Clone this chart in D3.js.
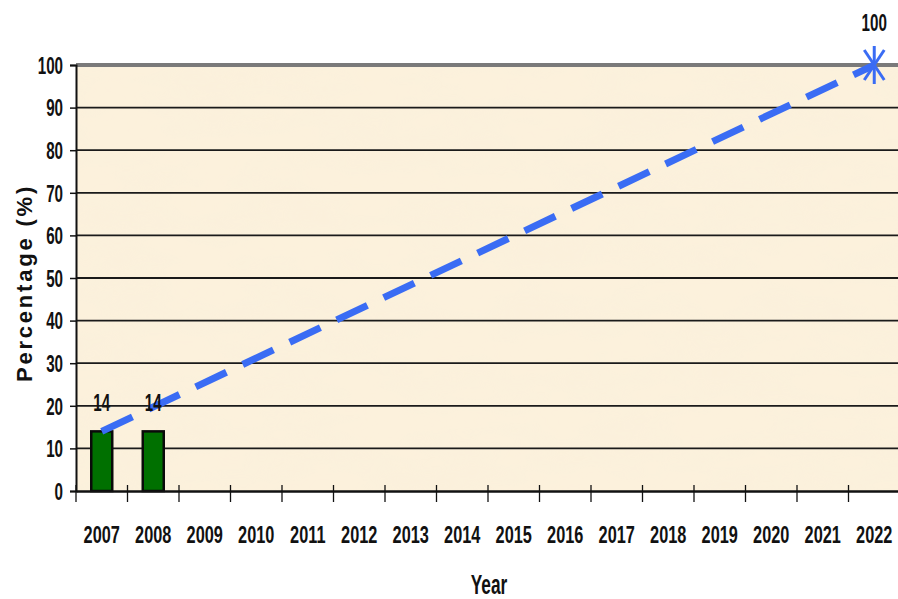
<!DOCTYPE html>
<html>
<head>
<meta charset="utf-8">
<script src="https://cdn.jsdelivr.net/npm/d3@7"></script>
<style>
  html, body { margin: 0; padding: 0; background: #ffffff; }
  svg { display: block; }
  .lbl { font-family: "Liberation Sans", Arial, sans-serif; font-weight: bold; font-size: 23px; fill: #111; }
</style>
</head>
<body>
<svg id="chart" width="898" height="599"></svg>
<script>
// Years on the category axis
const years = ["2007", "2008", "2009", "2010", "2011", "2012", "2013", "2014",
               "2015", "2016", "2017", "2018", "2019", "2020", "2021", "2022"];
// Achieved percentage per year (bars)
const barYears = ["2007", "2008"];
const barValues = [14, 14];
// Target trajectory (dashed line) from the starting level to the goal
const targetYears = ["2007", "2022"];
const targetValues = [14, 100];
// Y axis ticks
const yTicks = [0, 10, 20, 30, 40, 50, 60, 70, 80, 90, 100];

const svg = d3.select("#chart");
const plotLeft = 76, plotRight = 900, plotTop = 65, plotBottom = 491;

const x = d3.scaleBand().domain(years).range([plotLeft, plotRight]).paddingInner(0).paddingOuter(0);
const y = d3.scaleLinear().domain([0, 100]).range([plotBottom, plotTop]);

// Squeeze bold text horizontally around its anchor x, giving a narrow face
function condense(sel, k) {
  sel.each(function () {
    const x0 = +(this.getAttribute("x") || 0);
    d3.select(this).attr("transform", `translate(${x0 * (1 - k)},0) scale(${k},1)`);
  });
}

// Parchment background with a soft grain
const defs = svg.append("defs");
const flt = defs.append("filter").attr("id", "grain").attr("x", 0).attr("y", 0).attr("width", 1).attr("height", 1);
flt.append("feTurbulence").attr("type", "fractalNoise").attr("baseFrequency", "0.012 0.03").attr("numOctaves", 3).attr("seed", 7).attr("result", "noise");
flt.append("feColorMatrix").attr("in", "noise").attr("type", "matrix")
  .attr("values", "0 0 0 0 0.93  0 0 0 0 0.85  0 0 0 0 0.70  0 0 0 0.35 -0.08").attr("result", "tint");
flt.append("feComposite").attr("in", "tint").attr("in2", "SourceGraphic").attr("operator", "in");

svg.append("rect").attr("x", plotLeft).attr("y", plotTop).attr("width", plotRight - plotLeft).attr("height", plotBottom - plotTop)
  .attr("fill", "#fcf1dc");
svg.append("rect").attr("x", plotLeft).attr("y", plotTop).attr("width", plotRight - plotLeft).attr("height", plotBottom - plotTop)
  .attr("fill", "#fcf1dc").attr("filter", "url(#grain)");

// Horizontal gridlines
svg.append("g").selectAll("line").data(yTicks.filter(d => d > 0 && d < 100)).join("line")
  .attr("x1", plotLeft).attr("x2", plotRight).attr("y1", d => y(d)).attr("y2", d => y(d))
  .attr("stroke", "#1a1a1a").attr("stroke-width", 1.8);
// Top border at 100
svg.append("line").attr("x1", plotLeft).attr("x2", plotRight).attr("y1", y(100)).attr("y2", y(100))
  .attr("stroke", "#7a7a7a").attr("stroke-width", 4);

// Bars
svg.append("g").selectAll("rect").data(barYears.map((yr, i) => ({ yr, v: barValues[i] }))).join("rect")
  .attr("x", d => x(d.yr) + x.bandwidth() / 2 - 10.5)
  .attr("y", d => y(d.v))
  .attr("width", 21)
  .attr("height", d => y(0) - y(d.v))
  .attr("fill", "#007000").attr("stroke", "#0a0a0a").attr("stroke-width", 2.5);

// Y axis
const yAxis = d3.axisLeft(y).tickValues(yTicks).tickSize(6).tickPadding(7);
const gy = svg.append("g").attr("transform", `translate(${plotLeft},0)`).call(yAxis);
gy.select(".domain").attr("stroke", "#111").attr("stroke-width", 2);
gy.selectAll(".tick line").attr("stroke", "#111").attr("stroke-width", 1.5);
gy.selectAll(".tick text").attr("class", "lbl").attr("dy", "0.36em").call(condense, 0.66);

// X axis with ticks between categories
const xAxis = d3.axisBottom(x).tickSize(0).tickPadding(45);
const gx = svg.append("g").attr("transform", `translate(0,${plotBottom})`).call(xAxis);
gx.select(".domain").attr("stroke", "#111").attr("stroke-width", 2.4);
gx.selectAll(".tick text").attr("class", "lbl").style("font-size", "24px").attr("dy", "0.3em").call(condense, 0.68);
svg.append("g").selectAll("line").data(years).join("line")
  .attr("x1", d => x(d)).attr("x2", d => x(d))
  .attr("y1", plotBottom - 6).attr("y2", plotBottom + 11)
  .attr("stroke", "#111").attr("stroke-width", 1.3);

// Target trajectory
const pts = targetYears.map((yr, i) => ({ yr, v: targetValues[i] }));
const line = d3.line().x(d => x(d.yr) + x.bandwidth() / 2).y(d => y(d.v));
svg.append("path").datum(pts).attr("d", line)
  .attr("fill", "none").attr("stroke", "#3a6cf4").attr("stroke-width", 7)
  .attr("stroke-dasharray", "34,18");

// Asterisk marker at the goal
const last = pts[pts.length - 1];
const mx = x(last.yr) + x.bandwidth() / 2, my = y(last.v);
const mk = svg.append("g").attr("transform", `translate(${mx},${my})`)
  .attr("stroke", "#3a6cf4").attr("stroke-width", 3);
mk.append("line").attr("x1", 0).attr("x2", 0).attr("y1", -19).attr("y2", 19);
mk.append("line").attr("x1", -10).attr("x2", 10).attr("y1", -15).attr("y2", 15);
mk.append("line").attr("x1", -10).attr("x2", 10).attr("y1", 15).attr("y2", -15);

// Value labels
svg.append("g").selectAll("text").data(barYears.map((yr, i) => ({ yr, v: barValues[i] }))).join("text")
  .attr("class", "lbl")
  .attr("x", d => x(d.yr) + x.bandwidth() / 2)
  .attr("y", d => y(d.v) - 20)
  .attr("text-anchor", "middle")
  .text(d => d.v)
  .call(condense, 0.66);
svg.append("text").attr("class", "lbl")
  .attr("x", mx).attr("y", my - 34).attr("text-anchor", "middle").text(last.v)
  .call(condense, 0.66);

// Axis titles
svg.append("text").attr("class", "lbl")
  .attr("x", 489).attr("y", 594).attr("text-anchor", "middle").style("font-size", "27px").text("Year")
  .call(condense, 0.64);
svg.append("text")
  .attr("transform", "translate(32,283) rotate(-90)")
  .attr("text-anchor", "middle")
  .style("font-family", "'Liberation Sans', Arial, sans-serif").style("font-weight", "bold")
  .style("font-size", "22px").style("letter-spacing", "2.8px").attr("fill", "#111")
  .text("Percentage (%)");
</script>
</body>
</html>
